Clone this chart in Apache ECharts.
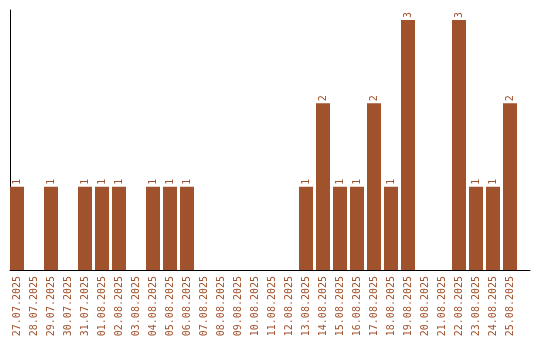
<!DOCTYPE html>
<html>
<head>
<meta charset="utf-8">
<style>html,body{margin:0;padding:0;background:#fff}#c{width:540px;height:340px}</style>
<script src="https://cdn.jsdelivr.net/npm/echarts@6/dist/echarts.min.js"></script>
</head>
<body>
<div id="c"></div>
<script>
const categories = ["27.07.2025","28.07.2025","29.07.2025","30.07.2025","31.07.2025","01.08.2025","02.08.2025","03.08.2025","04.08.2025","05.08.2025","06.08.2025","07.08.2025","08.08.2025","09.08.2025","10.08.2025","11.08.2025","12.08.2025","13.08.2025","14.08.2025","15.08.2025","16.08.2025","17.08.2025","18.08.2025","19.08.2025","20.08.2025","21.08.2025","22.08.2025","23.08.2025","24.08.2025","25.08.2025"];
const counts = [1,0,1,0,1,1,1,0,1,1,1,0,0,0,0,0,0,1,2,1,1,2,1,3,0,0,3,1,1,2];

const brown = '#A0522D';
const font = 'DejaVu Sans Mono';
const chart = echarts.init(document.getElementById('c'));
chart.setOption({
  animation: false,
  grid: [
    {left: 8.5, width: 510, top: 10, bottom: 70},
    {left: 10, right: 10, top: 10, bottom: 70}
  ],
  xAxis: [
    {type: 'category', data: categories, gridIndex: 0,
     axisLine: {show: false}, axisTick: {show: false},
     axisLabel: {interval: 0, rotate: 90, margin: 6, color: brown, fontFamily: font, fontSize: 10}},
    {type: 'value', gridIndex: 1, min: 0, max: 1,
     axisLine: {show: true, onZero: false, lineStyle: {color: '#000', width: 1}},
     axisTick: {show: false}, axisLabel: {show: false}, splitLine: {show: false}}
  ],
  yAxis: [
    {type: 'value', gridIndex: 0, min: 0, max: 3.12, show: false, splitLine: {show: false}},
    {type: 'value', gridIndex: 1, min: 0, max: 1,
     axisLine: {show: true, onZero: false, lineStyle: {color: '#000', width: 1}},
     axisTick: {show: false}, axisLabel: {show: false}, splitLine: {show: false}}
  ],
  series: [{
    type: 'bar', xAxisIndex: 0, yAxisIndex: 0,
    data: counts, barWidth: 14,
    itemStyle: {color: brown},
    label: {show: true, position: 'top', rotate: 90, align: 'left', verticalAlign: 'middle', distance: 2,
      color: brown, fontFamily: font, fontSize: 10,
      formatter: p => p.value ? String(p.value) : ''}
  }]
});
</script>
</body>
</html>
